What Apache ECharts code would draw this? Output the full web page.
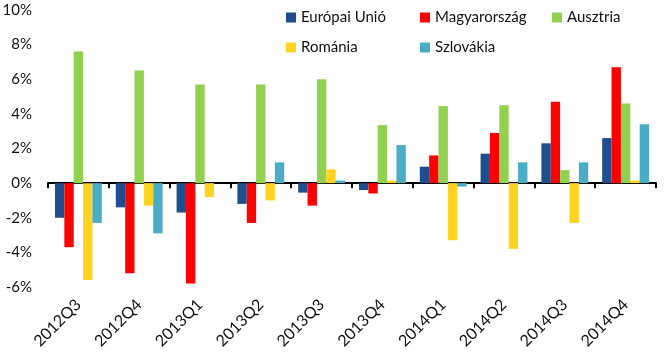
<!DOCTYPE html>
<html>
<head>
<meta charset="utf-8">
<script src="https://cdn.jsdelivr.net/npm/echarts@6/dist/echarts.min.js"></script>
<style>
  html, body { margin: 0; padding: 0; background: #fff; }
  #chart { width: 665px; height: 352px; }
</style>
</head>
<body>
<div id="chart"></div>
<script>
// ===== data =====
const quarters = ['2012Q3', '2012Q4', '2013Q1', '2013Q2', '2013Q3', '2013Q4', '2014Q1', '2014Q2', '2014Q3', '2014Q4'];
const eu        = [-2.0, -1.4, -1.7, -1.2, -0.55, -0.4, 0.95, 1.7, 2.3, 2.6];
const hungary   = [-3.7, -5.2, -5.8, -2.3, -1.3, -0.6, 1.6, 2.9, 4.7, 6.7];
const austria   = [7.6, 6.5, 5.7, 5.7, 6.0, 3.35, 4.45, 4.5, 0.75, 4.6];
const romania   = [-5.6, -1.3, -0.8, -1.0, 0.8, 0.15, -3.3, -3.8, -2.3, 0.15];
const slovakia  = [-2.3, -2.9, 0, 1.2, 0.15, 2.2, -0.2, 1.2, 1.2, 3.4];
const yTicks = { min: -6, max: 10, step: 2 };

const chart = echarts.init(document.getElementById('chart'));
const font = 'Lato, "Noto Sans", sans-serif';

function bar(name, data, color) {
  return {
    name: name, type: 'bar', data: data,
    itemStyle: { color: color },
    barGap: '0%', barCategoryGap: '23%'
  };
}

const legendBase = {
  orient: 'vertical', top: 5, itemGap: 15, itemWidth: 10, itemHeight: 10,
  icon: 'rect', textStyle: { fontFamily: font, fontSize: 15, color: '#111' }
};

chart.setOption({
  animation: false,
  textStyle: { fontFamily: font },
  legend: [
    Object.assign({ left: 281, data: ['Európai Unió', 'Románia'] }, legendBase),
    Object.assign({ left: 415, data: ['Magyarország', 'Szlovákia'] }, legendBase),
    Object.assign({ left: 547, data: ['Ausztria'] }, legendBase)
  ],
  grid: { left: 48, right: 9, top: 10, bottom: 65, outerBoundsMode: 'none', containLabel: false },
  xAxis: [
    {
      // labels at the bottom of the plot
      type: 'category',
      data: quarters,
      position: 'bottom',
      axisLine: { show: false, onZero: false },
      axisTick: { show: false },
      axisLabel: { rotate: 45, margin: 15, fontSize: 16, color: '#111', fontFamily: font, interval: 0 }
    },
    {
      // baseline at 0% with ticks
      type: 'category',
      data: quarters,
      position: 'bottom',
      axisLine: { onZero: true, lineStyle: { color: '#000', width: 2 } },
      axisTick: { show: true, length: 5, lineStyle: { color: '#000', width: 2 } },
      axisLabel: { show: false }
    }
  ],
  yAxis: {
    type: 'value',
    min: yTicks.min, max: yTicks.max, interval: yTicks.step,
    splitLine: { show: false },
    axisLine: { show: false },
    axisTick: { show: false },
    axisLabel: { formatter: '{value}%', margin: 16, fontSize: 15, color: '#111', fontFamily: font }
  },
  series: [
    bar('Európai Unió', eu, '#1F4E8F'),
    bar('Magyarország', hungary, '#FF0000'),
    bar('Ausztria', austria, '#92D050'),
    bar('Románia', romania, '#FFD320'),
    bar('Szlovákia', slovakia, '#4BACC6')
  ]
});
</script>
</body>
</html>
